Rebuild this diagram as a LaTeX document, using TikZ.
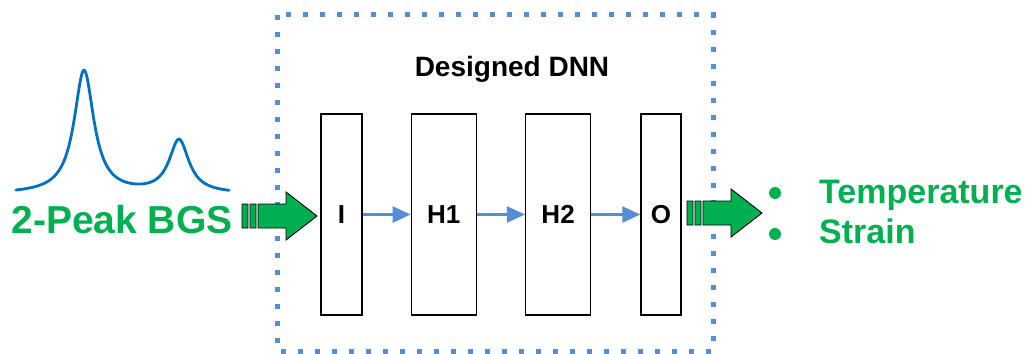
\documentclass[tikz,border=0pt]{standalone}
\usepackage{fontspec}
\setmainfont{Liberation Sans}
\usetikzlibrary{arrows.meta,positioning}

\definecolor{bgsgreen}{RGB}{0,176,80}
\definecolor{netblue}{RGB}{85,142,213}
\definecolor{curveblue}{RGB}{0,112,192}

% striped block arrow, drawn with its tip at the origin
\tikzset{stripearrow/.pic={
  \filldraw[fill=bgsgreen,draw=black,line width=0.9pt]
    (-75,-12) rectangle (-69,12)
    (-67,-12) rectangle (-61,12)
    (-59,-12) -- (-31,-12) -- (-31,-24) -- (0,0) -- (-31,24) -- (-31,12) -- (-59,12) -- cycle;
}}

\begin{document}
\begin{tikzpicture}[x=1pt,y=-1pt,
  layer/.style={draw=black,line width=1.3pt,fill=white,inner sep=0pt,
    minimum height=201pt,font=\fontsize{26}{28}\selectfont\bfseries},
  link/.style={netblue,line width=2.4pt,-{Triangle[length=18pt,width=16pt]}},
  greentext/.style={text=bgsgreen,font=\fontsize{#1}{#1}\selectfont\bfseries,inner sep=0pt},
  node distance=48pt]
\useasboundingbox (0,0) rectangle (1032,353);

% network frame
\draw[netblue,line width=5pt,dash pattern=on 5pt off 12pt] (277,15) rectangle (713,351);
\node[font=\fontsize{28}{30}\selectfont\bfseries,anchor=base] (title) at (512,76) {Designed DNN};

% layers
\node[layer,minimum width=41pt] (I) at (341.5,214.5) {I};
\node[layer,minimum width=65pt,right=of I] (H1) {H1};
\node[layer,minimum width=65pt,right=of H1] (H2) {H2};
\node[layer,minimum width=40pt,right=49pt of H2] (O) {O};

\draw[link] (I) -- (H1);
\draw[link] (H1) -- (H2);
\draw[link] (H2) -- (O);

% input spectrum
\draw[curveblue,line width=2.8pt,line cap=round] plot[domain=16:229,samples=200,smooth]
  (\x,{194-123/(1+((\x-84)/12)^2)-53/(1+((\x-179)/12)^2)});
\node[greentext=39,anchor=base] (bgs) at (122,233) {2-Peak BGS};

% outputs
\node[greentext=34,anchor=base west] (temp) at (819,203) {Temperature};
\node[greentext=34,anchor=base west] (strain) at (819,243) {Strain};
\fill[bgsgreen] (775,193) circle (6) (775,234) circle (6);

% big arrows in and out
\coordinate (inTip) at (317,216);
\coordinate (outTip) at (762,213);
\pic at (inTip) {stripearrow};
\pic at (outTip) {stripearrow};

\end{tikzpicture}
\end{document}
